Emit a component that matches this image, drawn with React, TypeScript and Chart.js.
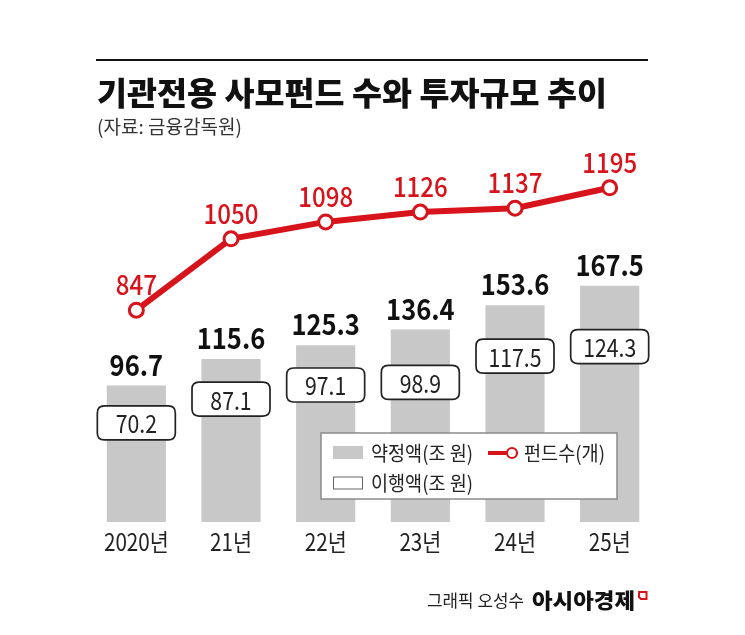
import React, { useEffect, useRef } from "react";
import { Chart, registerables } from "chart.js";

Chart.register(...registerables);

const categories = ["2020년", "21년", "22년", "23년", "24년", "25년"];
const commitAmount = [96.7, 115.6, 125.3, 136.4, 153.6, 167.5]; // 약정액(조 원)
const paidAmount = [70.2, 87.1, 97.1, 98.9, 117.5, 124.3]; // 이행액(조 원)
const fundCount = [847, 1050, 1098, 1126, 1137, 1195]; // 펀드수(개)

const TITLE = "기관전용 사모펀드 수와 투자규모 추이";
const SOURCE = "(자료: 금융감독원)";
const LEGEND_COMMIT = "약정액(조 원)";
const LEGEND_COUNT = "펀드수(개)";
const LEGEND_PAID = "이행액(조 원)";
const CREDIT = "그래픽 오성수";
const BRAND = "아시아경제";

const FONT = "'Noto Sans CJK KR', 'Noto Sans', sans-serif";
const RED = "#d7141c";
const GRAY = "#c8c8c8";

type TOpts = {
  size: number;
  weight?: number | string;
  color?: string;
  align?: CanvasTextAlign;
  baseline?: CanvasTextBaseline;
  sx?: number;
  fitWidth?: number;
};

function txt(ctx: CanvasRenderingContext2D, s: string, x: number, y: number, o: TOpts) {
  ctx.save();
  ctx.font = `${o.weight ?? 400} ${o.size}px ${FONT}`;
  ctx.fillStyle = o.color ?? "#111";
  ctx.textAlign = o.align ?? "center";
  ctx.textBaseline = o.baseline ?? "middle";
  let sx = o.sx ?? 1;
  if (o.fitWidth) {
    const w = ctx.measureText(s).width;
    sx = o.fitWidth / w;
  }
  ctx.translate(x, y);
  ctx.scale(sx, 1);
  ctx.fillText(s, 0, 0);
  ctx.restore();
}

function roundRect(ctx: CanvasRenderingContext2D, x: number, y: number, w: number, h: number, r: number) {
  ctx.beginPath();
  ctx.moveTo(x + r, y);
  ctx.lineTo(x + w - r, y);
  ctx.quadraticCurveTo(x + w, y, x + w, y + r);
  ctx.lineTo(x + w, y + h - r);
  ctx.quadraticCurveTo(x + w, y + h, x + w - r, y + h);
  ctx.lineTo(x + r, y + h);
  ctx.quadraticCurveTo(x, y + h, x, y + h - r);
  ctx.lineTo(x, y + r);
  ctx.quadraticCurveTo(x, y, x + r, y);
  ctx.closePath();
}

const decorPlugin = {
  id: "decor",
  beforeDraw(chart: any) {
    const ctx: CanvasRenderingContext2D = chart.ctx;
    ctx.save();
    ctx.fillStyle = "#fff";
    ctx.fillRect(0, 0, chart.width, chart.height);
    ctx.fillStyle = "#111";
    ctx.fillRect(96, 59, 552, 2);
    ctx.restore();
    txt(ctx, TITLE, 97, 93, { size: 32, weight: 900, color: "#111", align: "left", fitWidth: 510 });
    txt(ctx, SOURCE, 97, 127, { size: 19, weight: 400, color: "#333", align: "left", fitWidth: 145 });
  },
  afterDatasetsDraw(chart: any) {
    const ctx: CanvasRenderingContext2D = chart.ctx;
    const lineMeta = chart.getDatasetMeta(0);
    const barMeta = chart.getDatasetMeta(1);
    const paidMeta = chart.getDatasetMeta(2);
    const xScale = chart.scales.x;

    barMeta.data.forEach((el: any, i: number) => {
      txt(ctx, commitAmount[i].toFixed(1), el.x, el.y - 10, {
        size: 29, weight: 700, color: "#111", baseline: "alphabetic", sx: 0.88,
      });
    });

    lineMeta.data.forEach((el: any, i: number) => {
      txt(ctx, String(fundCount[i]), el.x, el.y - 15, {
        size: 28, weight: 500, color: RED, baseline: "alphabetic", sx: 0.86,
      });
    });

    paidMeta.data.forEach((el: any, i: number) => {
      const w = 78, h = 34;
      ctx.save();
      roundRect(ctx, el.x - w / 2, el.y - h / 2, w, h, 7);
      ctx.fillStyle = "#fff";
      ctx.fill();
      ctx.lineWidth = 1.7;
      ctx.strokeStyle = "#222";
      ctx.stroke();
      ctx.restore();
      txt(ctx, paidAmount[i].toFixed(1), el.x, el.y + 1, {
        size: 25, weight: 400, color: "#222", sx: 0.85,
      });
    });

    categories.forEach((c, i) => {
      const x = xScale.getPixelForTick(i);
      txt(ctx, c, x, 542, { size: 24, weight: 400, color: "#222", sx: 0.86 });
    });

    // legend
    ctx.save();
    ctx.fillStyle = "#fff";
    ctx.fillRect(321, 433, 296, 66);
    ctx.strokeStyle = "#8a8a8a";
    ctx.lineWidth = 1.5;
    ctx.strokeRect(321, 433, 296, 66);
    ctx.fillStyle = GRAY;
    ctx.fillRect(333, 446, 30, 13);
    ctx.strokeStyle = "#666";
    ctx.lineWidth = 1;
    ctx.fillStyle = "#fff";
    ctx.fillRect(333.5, 477, 29, 12);
    ctx.strokeRect(333.5, 477, 29, 12);
    ctx.strokeStyle = RED;
    ctx.lineWidth = 4;
    ctx.beginPath();
    ctx.moveTo(488, 453);
    ctx.lineTo(507, 453);
    ctx.stroke();
    ctx.beginPath();
    ctx.arc(512, 453, 5, 0, Math.PI * 2);
    ctx.fillStyle = "#fff";
    ctx.fill();
    ctx.lineWidth = 2.2;
    ctx.stroke();
    ctx.restore();
    txt(ctx, LEGEND_COMMIT, 371, 453, { size: 20, color: "#222", align: "left", fitWidth: 102 });
    txt(ctx, LEGEND_COUNT, 524, 453, { size: 20, color: "#222", align: "left", fitWidth: 81 });
    txt(ctx, LEGEND_PAID, 371, 483, { size: 20, color: "#222", align: "left", fitWidth: 102 });

    // footer
    txt(ctx, CREDIT, 427, 601, { size: 17, color: "#222", align: "left", fitWidth: 97 });
    txt(ctx, BRAND, 532, 600.5, { size: 21, weight: 900, color: "#111", align: "left", fitWidth: 103 });
    ctx.save();
    ctx.strokeStyle = RED;
    ctx.lineWidth = 2;
    ctx.beginPath();
    ctx.moveTo(639, 592);
    ctx.lineTo(646.5, 592);
    ctx.lineTo(646.5, 599);
    ctx.lineTo(641, 599);
    ctx.lineTo(639, 597);
    ctx.closePath();
    ctx.stroke();
    ctx.restore();
  },
};

export default function App() {
  const ref = useRef<HTMLCanvasElement | null>(null);
  useEffect(() => {
    if (!ref.current) return;
    const chart = new Chart(ref.current, {
      type: "bar",
      data: {
        labels: categories,
        datasets: [
          {
            type: "line",
            label: LEGEND_COUNT,
            data: fundCount,
            yAxisID: "y2",
            borderColor: RED,
            borderWidth: 6,
            pointRadius: 7,
            pointBorderWidth: 3,
            pointBackgroundColor: "#fff",
            pointBorderColor: RED,
            tension: 0,
            order: 1,
            clip: false,
          } as any,
          {
            type: "bar",
            label: LEGEND_COMMIT,
            data: commitAmount,
            yAxisID: "y",
            backgroundColor: GRAY,
            barPercentage: 0.625,
            categoryPercentage: 1,
            order: 3,
          },
          {
            type: "line",
            label: LEGEND_PAID,
            data: paidAmount,
            yAxisID: "y",
            showLine: false,
            pointRadius: 0,
            order: 2,
          } as any,
        ],
      },
      options: {
        responsive: false,
        animation: false,
        layout: { padding: { left: 89, right: 88, top: 141, bottom: 113 } },
        plugins: { legend: { display: false }, tooltip: { enabled: false } },
        scales: {
          x: { display: false, grid: { display: false } },
          y: { display: false, min: 0, max: 270 },
          y2: { display: false, min: 245, max: 1328 },
        },
      },
      plugins: [decorPlugin],
    });
    return () => chart.destroy();
  }, []);
  return (
    <div style={{ position: "absolute", left: 0, top: 0, width: 745, height: 635, background: "#fff" }}>
      <canvas ref={ref} width={745} height={635} style={{ display: "block" }} />
    </div>
  );
}
